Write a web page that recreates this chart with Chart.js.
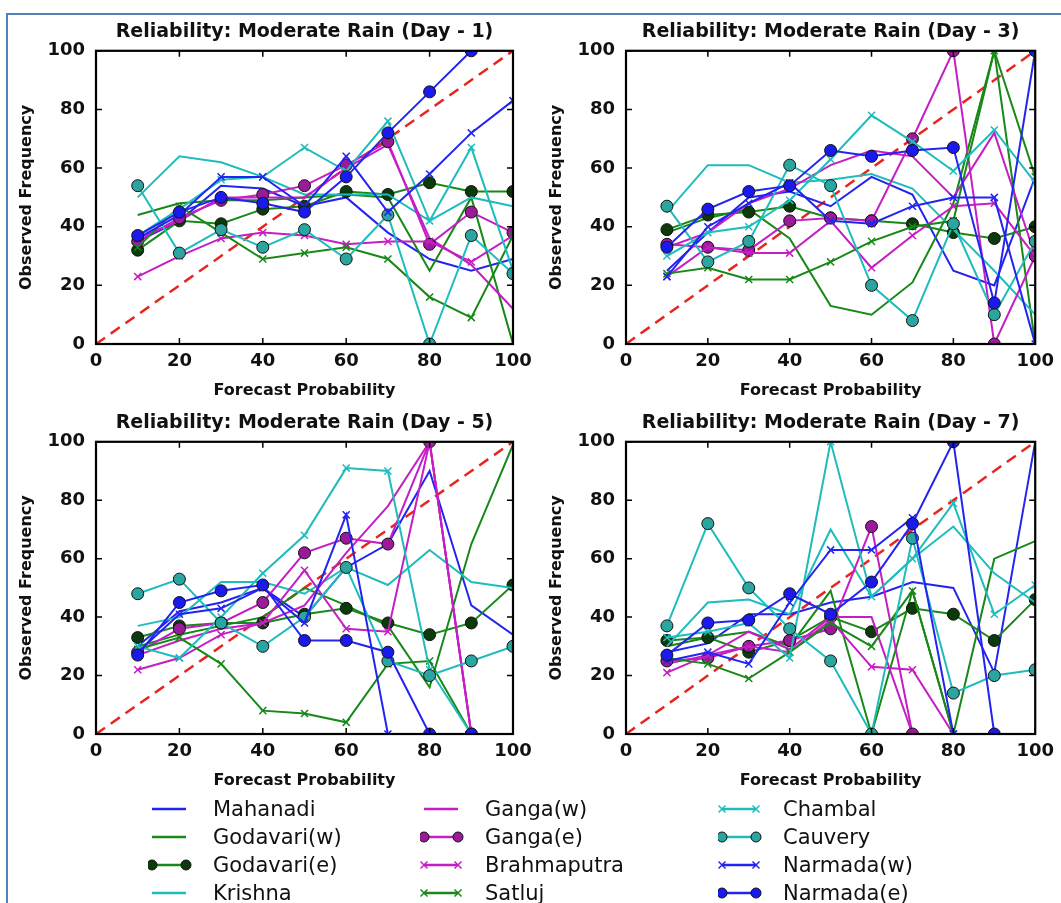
<!DOCTYPE html>
<html>
<head>
<meta charset="utf-8">
<script src="https://cdn.jsdelivr.net/npm/chart.js@4.4.1/dist/chart.umd.min.js"></script>
<style>
  html, body { margin: 0; padding: 0; background: #fff; }
  body { width: 1061px; height: 903px; position: relative; overflow: hidden; font-family: 'DejaVu Sans', sans-serif; }
  #frame { position: absolute; left: 6px; top: 13px; width: 1070px; height: 900px; border-left: 2px solid #4f81bd; border-top: 2px solid #4f81bd; }
  canvas { position: absolute; }
  .item { position: absolute; height: 28px; display: flex; align-items: center; font-size: 21px; color: #111; white-space: nowrap; }
  .item svg { flex: none; }
</style>
</head>
<body>
<div id="frame"></div>
<canvas id="day1" width="545" height="392" style="left:0;top:16px"></canvas>
<canvas id="day3" width="531" height="392" style="left:530px;top:16px"></canvas>
<canvas id="day5" width="545" height="391" style="left:0;top:407px"></canvas>
<canvas id="day7" width="531" height="391" style="left:530px;top:407px"></canvas>
<div id="legend"></div>
<script>
const FONT = "'DejaVu Sans', sans-serif";

const probs = [10, 20, 30, 40, 50, 60, 70, 80, 90, 100];
const tickVals = [0, 20, 40, 60, 80, 100];
const rivers = ['Mahanadi', 'Godavari(w)', 'Godavari(e)', 'Krishna', 'Ganga(w)', 'Ganga(e)',
                'Brahmaputra', 'Satluj', 'Chambal', 'Cauvery', 'Narmada(w)', 'Narmada(e)'];

// observed frequency per river (same order as rivers), one row per river
const day1 = [
  [35, 42, 54, 53, 47, 50, 38, 29, 25, 29],
  [44, 48, 49, 49, 50, 51, 50, 25, 50, 0],
  [32, 42, 41, 46, 47, 52, 51, 55, 52, 52],
  [50, 64, 62, 57, 51, 51, 51, 42, 50, 47],
  [36, 42, 50, 50, 50, 60, 68, 36, 27, 12],
  [35, 43, 49, 51, 54, 61, 69, 34, 45, 38],
  [23, 30, 36, 38, 37, 34, 35, 35, 28, 37],
  [33, 47, 38, 29, 31, 33, 29, 16, 9, 37],
  [37, 46, 56, 57, 67, 59, 76, 42, 67, 25],
  [54, 31, 39, 33, 39, 29, 44, 0, 37, 24],
  [36, 44, 57, 57, 47, 64, 45, 58, 72, 83],
  [37, 45, 50, 48, 45, 57, 72, 86, 100, null]
];
const day3 = [
  [25, 38, 50, 52, 47, 57, 51, 25, 20, 57],
  [38, 43, 46, 36, 13, 10, 21, 48, 100, 0],
  [39, 44, 45, 47, 43, 42, 41, 38, 36, 40],
  [45, 61, 61, 55, 56, 58, 53, 39, 25, 10],
  [33, 38, 48, 53, 61, 66, 64, 50, 72, 30],
  [34, 33, 32, 42, 43, 42, 70, 100, 0, 30],
  [23, 33, 31, 31, 42, 26, 37, 47, 48, 30],
  [24, 26, 22, 22, 28, 35, 40, 42, 100, 57],
  [30, 38, 40, 49, 63, 78, 69, 59, 73, 55],
  [47, 28, 35, 61, 54, 20, 8, 41, 10, 35],
  [23, 40, 48, 55, 42, 41, 47, 50, 50, 0],
  [33, 46, 52, 54, 66, 64, 66, 67, 14, 100]
];
const day5 = [
  [30, 42, 45, 50, 40, 57, 65, 90, 44, 34],
  [30, 34, 37, 40, 50, 44, 37, 16, 65, 99],
  [33, 37, 38, 38, 41, 43, 38, 34, 38, 51],
  [37, 40, 52, 52, 48, 57, 51, 63, 52, 50],
  [27, 32, 36, 38, 44, 62, 78, 100, 0, null],
  [28, 36, 38, 45, 62, 67, 65, 100, 0, null],
  [22, 26, 34, 38, 56, 36, 35, 100, 0, null],
  [29, 33, 24, 8, 7, 4, 24, 25, 0, null],
  [30, 26, 40, 55, 68, 91, 90, 22, 0, null],
  [48, 53, 38, 30, 40, 57, 25, 20, 25, 30],
  [28, 41, 43, 50, 38, 75, 0, null, null, null],
  [27, 45, 49, 51, 32, 32, 28, 0, 0, null]
];
const day7 = [
  [28, 31, 41, 41, 45, 47, 52, 50, 21, 100],
  [30, 33, 35, 30, 49, 0, 49, 0, 60, 66],
  [32, 33, 28, 32, 40, 35, 43, 41, 32, 46],
  [30, 45, 46, 41, 70, 47, 60, 71, 55, 45],
  [24, 27, 35, 29, 40, 40, 0, null, null, null],
  [25, 26, 30, 32, 36, 71, 0, null, null, null],
  [21, 27, 30, 28, 39, 23, 22, 0, null, null],
  [26, 24, 19, 28, 38, 30, 49, 0, null, null],
  [33, 35, 38, 26, 100, 47, 60, 79, 41, 51],
  [37, 72, 50, 36, 25, 0, 67, 14, 20, 22],
  [25, 28, 24, 45, 63, 63, 74, 0, null, null],
  [27, 38, 39, 48, 41, 52, 72, 100, 0, null]
];

// styles (kept apart from the values)
const BLUE = '#2424f0', GREEN = '#188818', CYAN = '#1fbcbc', MAGENTA = '#c41ec4';
const lineColors = [BLUE, GREEN, GREEN, CYAN, MAGENTA, MAGENTA, MAGENTA, GREEN, CYAN, CYAN, BLUE, BLUE];
const markers    = ['', '', 'o', '', '', 'o', 'x', 'x', 'x', 'o', 'x', 'o'];
const faceColors = [BLUE, GREEN, '#0b3a0b', CYAN, MAGENTA, '#9a1a9a', MAGENTA, GREEN, CYAN, '#2aa5a0', BLUE, '#1a1aee'];

// matplotlib-like box with inward ticks on all four sides
const frameTicks = {
  id: 'frameTicks',
  afterDatasetsDraw(chart) {
    const {ctx, chartArea: a, scales: {x, y}} = chart;
    ctx.save();
    ctx.strokeStyle = '#000';
    ctx.lineWidth = 1.5;
    ctx.beginPath();
    tickVals.forEach(v => {
      const px = x.getPixelForValue(v), py = y.getPixelForValue(v);
      ctx.moveTo(px, a.bottom); ctx.lineTo(px, a.bottom - 6);
      ctx.moveTo(px, a.top); ctx.lineTo(px, a.top + 6);
      ctx.moveTo(a.left, py); ctx.lineTo(a.left + 6, py);
      ctx.moveTo(a.right, py); ctx.lineTo(a.right - 6, py);
    });
    ctx.stroke();
    ctx.lineWidth = 2.2;
    ctx.strokeRect(a.left, a.top, a.width, a.height);
    ctx.restore();
  }
};

function makeChart(id, day, vals, padRight) {
  const datasets = rivers.map((name, i) => ({
    label: name,
    data: probs.map((p, j) => ({x: p, y: vals[i][j]})),
    borderColor: lineColors[i],
    borderWidth: 2,
    pointStyle: markers[i] === 'x' ? 'crossRot' : 'circle',
    pointRadius: markers[i] === 'o' ? 6 : (markers[i] === 'x' ? 5 : 0),
    pointBackgroundColor: faceColors[i],
    pointBorderColor: markers[i] === 'o' ? '#111' : lineColors[i],
    pointBorderWidth: markers[i] === 'o' ? 1 : 1.5,
    tension: 0,
    fill: false,
    spanGaps: false,
    order: 20 - i
  }));
  datasets.push({
    label: 'perfect',
    data: [{x: 0, y: 0}, {x: 100, y: 100}],
    borderColor: '#e8251f',
    borderDash: [11, 7],
    borderWidth: 2.5,
    pointRadius: 0,
    order: 30
  });

  return new Chart(document.getElementById(id), {
    type: 'line',
    data: {datasets},
    options: {
      responsive: false,
      animation: false,
      devicePixelRatio: 1,
      layout: {padding: {left: 0, right: padRight, top: 0, bottom: 0}},
      plugins: {
        legend: {display: false},
        tooltip: {enabled: false},
        title: {
          display: true, fullSize: false,
          text: `Reliability: Moderate Rain (Day - ${day})`,
          color: '#111',
          font: {family: FONT, size: 19, weight: 'bold'},
          padding: {top: 5, bottom: 7}
        }
      },
      scales: {
        x: {
          type: 'linear', min: 0, max: 100,
          grid: {display: false, drawTicks: false},
          border: {display: false},
          ticks: {stepSize: 20, padding: 7, color: '#111', font: {family: FONT, size: 18, weight: 'bold'}},
          title: {display: true, text: 'Forecast Probability', color: '#111',
                  font: {family: FONT, size: 16, weight: 'bold'}, padding: {top: 0, bottom: 8}},
          afterFit(s) { s.height = 64; }
        },
        y: {
          type: 'linear', min: 0, max: 100,
          grid: {display: false, drawTicks: false},
          border: {display: false},
          ticks: {stepSize: 20, padding: 11, color: '#111', font: {family: FONT, size: 18, weight: 'bold'}},
          title: {display: true, text: 'Observed Frequency', color: '#111',
                  font: {family: FONT, size: 16, weight: 'bold'}, padding: {top: 17, bottom: 0}},
          afterFit(s) { s.width = 96; }
        }
      }
    },
    plugins: [frameTicks]
  });
}

makeChart('day1', 1, day1, 32);
makeChart('day3', 3, day3, 19);
makeChart('day5', 5, day5, 32);
makeChart('day7', 7, day7, 19);

// legend: three columns, filled top to bottom like matplotlib ncol=3
const legendColX = [148, 420, 718];
const legendRowY = [809, 837, 865, 893];
const legend = document.getElementById('legend');
rivers.forEach((name, i) => {
  const col = Math.floor(i / 4), row = i % 4;
  const c = lineColors[i];
  let mk = '';
  [4, 38].forEach(cx => {
    if (markers[i] === 'o') {
      mk += `<circle cx="${cx}" cy="10" r="5" fill="${faceColors[i]}" stroke="#111" stroke-width="1"/>`;
    } else if (markers[i] === 'x') {
      mk += `<path d="M${cx - 3.5} 6.5 L${cx + 3.5} 13.5 M${cx - 3.5} 13.5 L${cx + 3.5} 6.5" stroke="${c}" stroke-width="1.5"/>`;
    }
  });
  const div = document.createElement('div');
  div.className = 'item';
  div.style.left = legendColX[col] + 'px';
  div.style.top = (legendRowY[row] - 14) + 'px';
  div.innerHTML = `<svg width="65" height="20"><line x1="4" y1="10" x2="38" y2="10" stroke="${c}" stroke-width="2.5"/>${mk}</svg><span>${name}</span>`;
  legend.appendChild(div);
});
</script>
</body>
</html>
